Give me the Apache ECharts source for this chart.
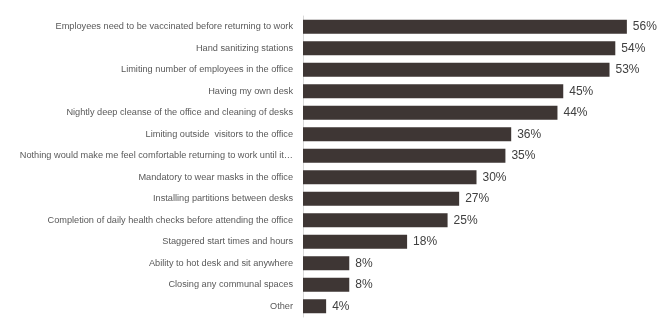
<!DOCTYPE html>
<html>
<head>
<meta charset="utf-8">
<script src="https://cdn.jsdelivr.net/npm/echarts@6/dist/echarts.min.js"></script>
<style>
  html, body { margin: 0; padding: 0; background: #ffffff; }
  #chart { width: 667px; height: 326px; }
</style>
</head>
<body>
<div id="chart"></div>
<script>
// Office-return measures, top to bottom
const categories = [
  'Employees need to be vaccinated before returning to work',
  'Hand sanitizing stations',
  'Limiting number of employees in the office',
  'Having my own desk',
  'Nightly deep cleanse of the office and cleaning of desks',
  'Limiting outside  visitors to the office',
  'Nothing would make me feel comfortable returning to work until it…',
  'Mandatory to wear masks in the office',
  'Installing partitions between desks',
  'Completion of daily health checks before attending the office',
  'Staggered start times and hours',
  'Ability to hot desk and sit anywhere',
  'Closing any communal spaces',
  'Other'
];
const values = [56, 54, 53, 45, 44, 36, 35, 30, 27, 25, 18, 8, 8, 4];

const chart = echarts.init(document.getElementById('chart'), null, { renderer: 'canvas' });
chart.setOption({
  animation: false,
  grid: { left: 303, right: 17, top: 16, bottom: 9, containLabel: false },
  xAxis: {
    type: 'value', min: 0, max: 60,
    show: false
  },
  yAxis: {
    type: 'category',
    data: categories,
    inverse: true,
    axisLine: { show: true, lineStyle: { color: '#d9d9d9', width: 1 } },
    axisTick: { show: false },
    axisLabel: {
      color: '#595959',
      fontFamily: 'Liberation Sans',
      fontSize: 9.2,
      margin: 10
    }
  },
  series: [{
    type: 'bar',
    data: values,
    barWidth: 14,
    itemStyle: { color: '#3e3634' },
    label: {
      show: true,
      position: 'right',
      distance: 6,
      formatter: p => p.value + '%',
      color: '#404040',
      fontFamily: 'Liberation Sans',
      fontSize: 12
    }
  }]
});
</script>
</body>
</html>
